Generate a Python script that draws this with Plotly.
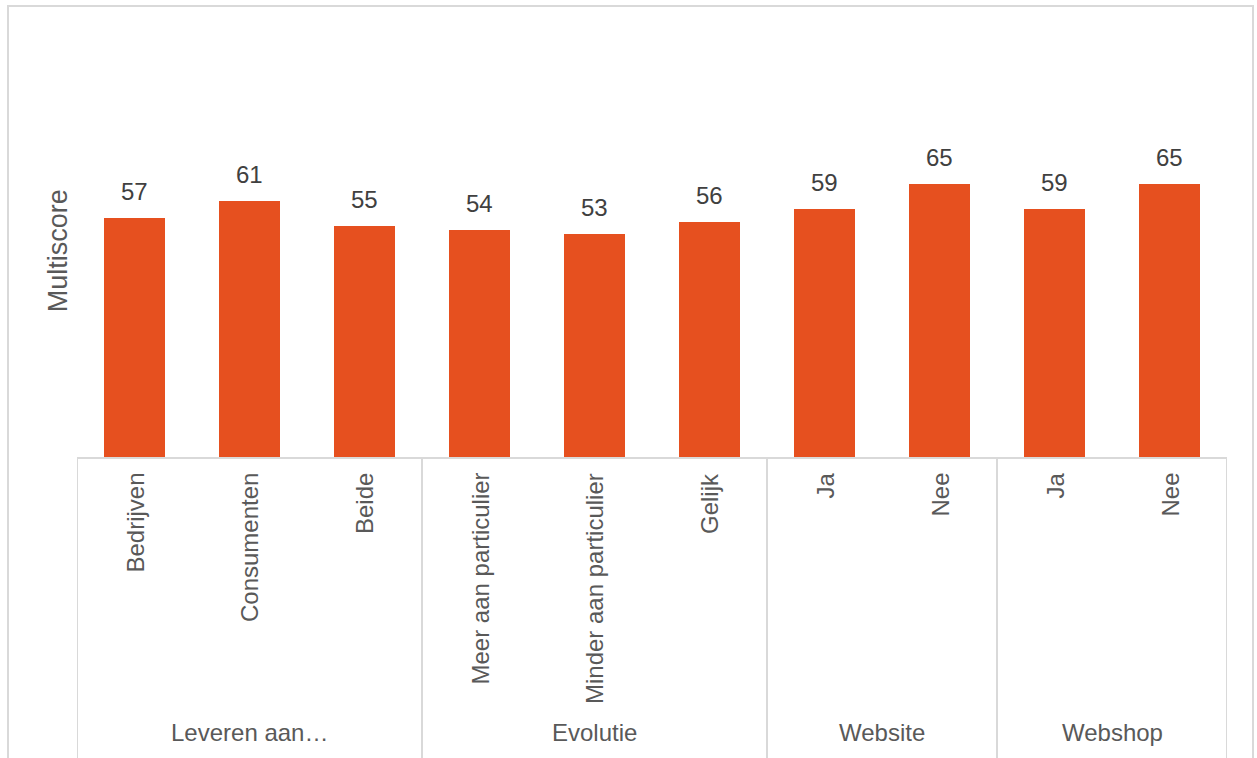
import plotly.graph_objects as go

# Multiscore per segment, grouped by question
groups = ["Leveren aan…", "Evolutie", "Website", "Webshop"]
group_sizes = [3, 3, 2, 2]
categories = ["Bedrijven", "Consumenten", "Beide",
              "Meer aan particulier", "Minder aan particulier", "Gelijk",
              "Ja", "Nee",
              "Ja", "Nee"]
scores = [57, 61, 55, 54, 53, 56, 59, 65, 59, 65]

BAR_COLOR = "#E6501F"
LINE_COLOR = "#D9D9D9"
FONT = "Arial, Liberation Sans, sans-serif"

positions = list(range(len(categories)))

fig = go.Figure(go.Bar(
    x=positions,
    y=scores,
    marker=dict(color=BAR_COLOR, line=dict(width=0)),
    width=0.53,
    hoverinfo="skip",
))

annotations = []
# value labels above each bar
for xp, v in zip(positions, scores):
    annotations.append(dict(
        x=xp, y=v, xref="x", yref="y", text=str(v), showarrow=False,
        yanchor="bottom", yshift=11,
        font=dict(family=FONT, size=24, color="#404040"),
    ))
# rotated category labels under the axis
for xp, c in zip(positions, categories):
    annotations.append(dict(
        x=xp, y=0, xref="x", yref="paper", text=c, showarrow=False,
        textangle=-90, yanchor="top", xanchor="center", yshift=-14,
        font=dict(family=FONT, size=24, color="#595959"),
    ))

# group labels and dividers
shapes = []
start = 0
bounds = [-0.5]
for g, n in zip(groups, group_sizes):
    mid = start + (n - 1) / 2
    annotations.append(dict(
        x=mid, y=-0.657, xref="x", yref="paper", text=g, showarrow=False,
        yanchor="middle", xanchor="center",
        font=dict(family=FONT, size=24, color="#595959"),
    ))
    start += n
    bounds.append(start - 0.5)

for b in bounds:
    shapes.append(dict(
        type="line", xref="x", yref="paper", x0=b, x1=b, y0=0, y1=-0.75,
        line=dict(color=LINE_COLOR, width=2),
    ))

# axis title
annotations.append(dict(
    x=-0.0165, y=0.49, xref="paper", yref="paper", text="Multiscore",
    showarrow=False, textangle=-90, xanchor="center", yanchor="middle",
    font=dict(family=FONT, size=27, color="#595959"),
))

# chart border
shapes.append(dict(
    type="rect", xref="paper", yref="paper",
    x0=-0.06, x1=1.0226, y0=-0.8, y1=1.0738,
    line=dict(color=LINE_COLOR, width=2), fillcolor="rgba(0,0,0,0)",
    layer="below",
))

fig.update_layout(
    width=1257, height=758,
    margin=dict(l=77, r=30, t=37, b=301),
    paper_bgcolor="white", plot_bgcolor="white",
    showlegend=False,
    xaxis=dict(range=[-0.5, len(categories) - 0.5], showticklabels=False,
               showgrid=False, zeroline=False, ticks="",
               showline=True, linecolor=LINE_COLOR, linewidth=2),
    yaxis=dict(range=[0, 100], visible=False, showgrid=False, zeroline=False),
    annotations=annotations,
    shapes=shapes,
    bargap=0,
)

fig.write_html("out.html", config={"displayModeBar": False})
